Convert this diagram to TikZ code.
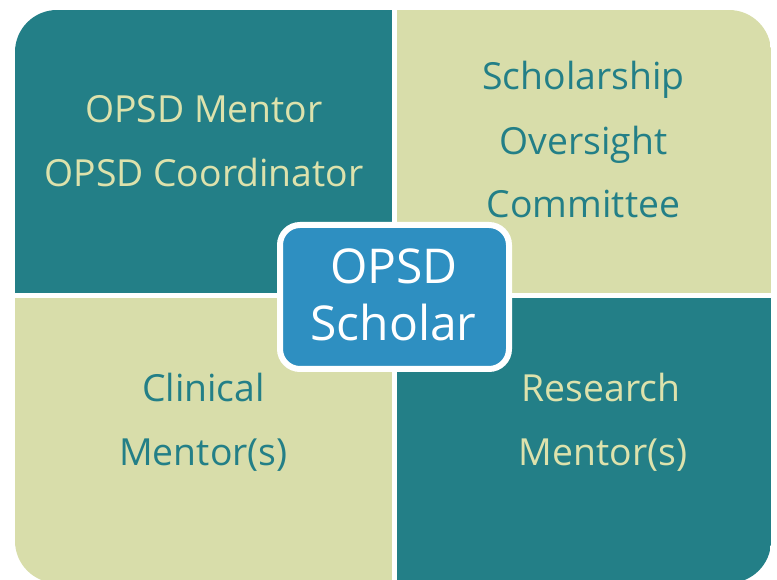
\documentclass[tikz,border=0pt]{standalone}
\usepackage{fontspec}
\setmainfont{Open Sans}
\definecolor{tealq}{RGB}{35,127,135}
\definecolor{oliveq}{RGB}{216,221,170}
\definecolor{bluebox}{RGB}{46,143,193}
\definecolor{olivetext}{RGB}{221,226,172}
\begin{document}
\begin{tikzpicture}[x=0.75pt,y=-0.75pt,
  qtxt/.style={inner sep=0pt, outer sep=0pt, anchor=base, font=\fontsize{28pt}{32pt}\selectfont},
  ontea/.style={qtxt, text=olivetext},
  onolive/.style={qtxt, text=tealq},
  centerbox/.style={rectangle, rounded corners=15pt, draw=white, line width=4.5pt, fill=bluebox,
    minimum width=171.75pt, minimum height=108pt, inner sep=0pt},
  ctxt/.style={inner sep=0pt, outer sep=0pt, anchor=base, text=white, font=\fontsize{36pt}{42pt}\selectfont}]
\useasboundingbox (0,0) rectangle (777,580);
\begin{scope}
  \clip[rounded corners=31.5pt] (15,10) rectangle (771,583);
  \fill[tealq]  (15,10)   rectangle (392,293.5);
  \fill[oliveq] (396.5,10) rectangle (771,293.5);
  \fill[oliveq] (15,298.5) rectangle (392,583);
  \fill[tealq]  (396.5,298.5) rectangle (771,583);
\end{scope}
\node[ontea] (tl1) at (204,122.7) {OPSD Mentor};
\node[ontea] (tl2) at (204,186.7) {OPSD Coordinator};
\node[onolive] (tr1) at (583.5,90) {Scholarship};
\node[onolive] (tr2) at (583.5,155) {Oversight};
\node[onolive] (tr3) at (583.5,218) {Committee};
\node[onolive] (bl1) at (203.5,402) {Clinical};
\node[onolive] (bl2) at (203.5,465) {Mentor(s)};
\node[ontea] (br1) at (601,402) {Research};
\node[ontea] (br2) at (603,465) {Mentor(s)};
\node[centerbox] (scholar) at (394.5,297) {};
\node[ctxt] (c1) at (394,284) {OPSD};
\node[ctxt] (c2) at (393.5,341) {Scholar};
\end{tikzpicture}
\end{document}
